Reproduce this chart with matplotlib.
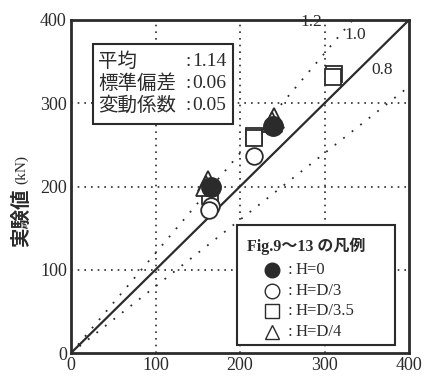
import matplotlib
matplotlib.use('Agg')

import matplotlib.pyplot as plt
from matplotlib.patches import Rectangle

# 計算値と実験値 (kN)
h0_calc = [166, 239]
h0_exp = [200, 273]
d3_calc = [166, 163, 216]
d3_exp = [176, 172, 237]
d35_calc = [165, 216, 217, 311, 310]
d35_exp = [189, 261, 258, 335, 332]
d4_calc = [162, 160, 240, 238]
d4_exp = [207, 201, 282, 277]

ratios = [1.2, 1.0, 0.8]
ticks = [0, 100, 200, 300, 400]
stats_names = ["平均", "標準偏差", "変動係数"]
stats_values = ["1.14", "0.06", "0.05"]
legend_labels = ["H=0", "H=D/3", "H=D/3.5", "H=D/4"]

serif = "Liberation Serif"
jp = ["Noto Sans CJK JP", "DejaVu Sans"]
mixed = ["Liberation Serif", "Noto Sans CJK JP"]
ink = "#2b2b2b"

fig = plt.figure(figsize=(4.24, 3.78), dpi=100)
ax = fig.add_axes([71 / 424, 1 - 353 / 378, 338 / 424, 333 / 378])
ax.set_xlim(0, 400)
ax.set_ylim(0, 400)

# 比率線
for r in ratios:
    xs = [0, 400 / r if r > 1 else 400]
    ys = [0, xs[1] * r]
    if r == 1.0:
        ax.plot(xs, ys, color=ink, lw=1.6, zorder=2)
    else:
        ax.plot(xs, ys, color=ink, lw=1.3, ls=(0, (1, 5)), zorder=2)
ax.text(285, 398, "1.2", fontsize=12.5, family=serif, color=ink, ha="center", va="center")
ax.text(336, 382, "1.0", fontsize=12.5, family=serif, color=ink, ha="center", va="center")
ax.text(368, 340, "0.8", fontsize=12.5, family=serif, color=ink, ha="center", va="center")

# グリッド
for t in ticks[1:-1]:
    ax.axvline(t, color=ink, lw=1.2, ls=(0, (1, 3)), zorder=1)
    ax.axhline(t, color=ink, lw=1.2, ls=(0, (1, 3)), zorder=1)

ax.set_xticks(ticks)
ax.set_yticks(ticks)
ax.tick_params(length=0, pad=3)
for lab in ax.get_xticklabels() + ax.get_yticklabels():
    lab.set_fontfamily(serif)
    lab.set_fontsize(13)
    lab.set_color(ink)
for s in ax.spines.values():
    s.set_linewidth(2)
    s.set_color(ink)

# データ
ax.plot(d35_calc, d35_exp, "s", ms=12, mfc="white", mec=ink, mew=1.3, zorder=3)
ax.plot(d3_calc, d3_exp, "o", ms=12, mfc="white", mec=ink, mew=1.3, zorder=4)
ax.plot(d4_calc, d4_exp, "^", ms=14, mfc="white", mec=ink, mew=1.3, zorder=4)
ax.plot(h0_calc, h0_exp, "o", ms=14, mfc=ink, mec=ink, zorder=5)

# 統計値
ax.add_patch(Rectangle((26, 275), 166, 96, fill=True, fc="white", ec=ink, lw=1.5, zorder=6))
for i, (name, val) in enumerate(zip(stats_names, stats_values)):
    y = 350 - i * 26.5
    ax.text(32, y, name, fontsize=14, family=jp, color=ink, va="center", zorder=7)
    ax.text(136, y, ":", fontsize=14, family=serif, color=ink, va="center", zorder=7)
    ax.text(144, y, val, fontsize=14, family=serif, color=ink, va="center", zorder=7)

# 凡例
ax.add_patch(Rectangle((196, 10), 187, 144, fill=True, fc="white", ec=ink, lw=1.5, zorder=6))
ax.text(208, 128, "Fig.9～13 の凡例", fontsize=11.5, family=mixed, weight="bold",
        color=ink, va="center", zorder=7)
styles = [dict(marker="o", mfc=ink), dict(marker="o", mfc="white"),
          dict(marker="s", mfc="white"), dict(marker="^", mfc="white")]
for i, (lab, st) in enumerate(zip(legend_labels, styles)):
    y = 100 - i * 25
    ax.plot([238], [y], ls="none", ms=10.5, mec=ink, mew=1.0, zorder=7, **st)
    ax.text(256, y, ":", fontsize=12, family=serif, color=ink, va="center", zorder=7)
    ax.text(266, y, lab, fontsize=12, family=serif, color=ink, va="center", zorder=7)

# 縦軸ラベル
fig.text(22 / 424, 1 - 218 / 378, "実験値", rotation=90, fontsize=14, family=jp,
         weight="bold", color=ink, ha="center", va="center")
fig.text(22 / 424, 1 - 170 / 378, "(kN)", rotation=90, fontsize=11, family=serif,
         color=ink, ha="center", va="center")

fig.savefig("out.png", dpi=100)
